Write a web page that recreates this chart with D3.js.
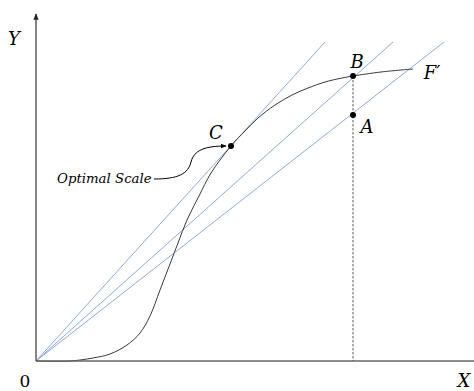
<!DOCTYPE html>
<html><head><meta charset="utf-8">
<script src="https://cdn.jsdelivr.net/npm/d3@7"></script>
<style>body{margin:0;background:#fff}svg{display:block}</style>
</head><body>
<script>
// Data (units: abstract X/Y, origin at 0)
const curveX = [0, 34, 57, 74, 91, 104, 114, 124, 134, 142, 151, 163, 175, 195, 209, 222, 239, 256, 272, 289, 306, 317, 345, 377];
const curveY = [0, 0, 3, 7, 16, 28, 45, 71, 97, 118, 141, 165, 188, 215, 230, 243, 256, 266, 273, 279, 283, 285, 289, 292];
const rayNames = ["ray1", "ray2", "ray3"];
const rayEndX = [289, 357, 408];
const rayEndY = [319, 319, 319];
const pointNames = ["C", "B", "A"];
const pointX = [195, 317, 317];
const pointY = [215, 285, 246];
const axisMaxX = 438, axisMaxY = 347;

const W = 474, H = 391;
const svg = d3.select("body").append("svg").attr("width", W).attr("height", H);
const x = d3.scaleLinear().domain([0, axisMaxX]).range([36, 474]);
const y = d3.scaleLinear().domain([0, axisMaxY]).range([361, 14]);

svg.append("defs").html(`
<marker id="ah" viewBox="0 0 10 10" refX="9" refY="5" markerWidth="6" markerHeight="6" orient="auto"><path d="M0,1L10,5L0,9z" fill="#000"/></marker>
<marker id="ay" viewBox="0 0 10 10" refX="9" refY="5" markerWidth="5" markerHeight="6" orient="auto"><path d="M0,1L10,5L0,9z" fill="#222"/></marker>`);

// rays
rayEndX.forEach((ex, i) => {
  svg.append("line").attr("x1", x(0)).attr("y1", y(0)).attr("x2", x(ex)).attr("y2", y(rayEndY[i]))
    .attr("stroke", "#8eaadb").attr("stroke-width", 1);
});

// dashed vertical from B
svg.append("line").attr("x1", x(pointX[1])).attr("y1", y(pointY[1])).attr("x2", x(pointX[1])).attr("y2", y(0))
  .attr("stroke", "#777").attr("stroke-width", 1.2).attr("stroke-dasharray", "2.5,1.5");

// curve
const pts = curveX.map((v, i) => [v, curveY[i]]);
svg.append("path").attr("d", d3.line().x(d => x(d[0])).y(d => y(d[1])).curve(d3.curveCatmullRom.alpha(0.5))(pts))
  .attr("fill", "none").attr("stroke", "#3a3a3a").attr("stroke-width", 1);

// axes
svg.append("line").attr("x1", x(0)).attr("y1", y(0)).attr("x2", x(axisMaxX)).attr("y2", y(0))
  .attr("stroke", "#666").attr("stroke-width", 1.5);
svg.append("line").attr("x1", x(0)).attr("y1", y(0)).attr("x2", x(0)).attr("y2", y(axisMaxY))
  .attr("stroke", "#444").attr("stroke-width", 1.3).attr("marker-end", "url(#ay)");

// points
pointX.forEach((px, i) => {
  svg.append("circle").attr("cx", x(px)).attr("cy", y(pointY[i])).attr("r", 3).attr("fill", "#000");
});

// labels
const font = "'DejaVu Serif', serif";
function lab(t, cx, cy, size, italic, anchor) {
  svg.append("text").attr("x", cx).attr("y", cy).text(t)
    .attr("font-family", font).attr("font-size", size)
    .attr("font-style", italic ? "italic" : "normal")
    .attr("text-anchor", anchor || "middle").attr("fill", "#000");
}
lab("Y", 14, 45, 18, true);
lab("0", 25, 387, 17, false);
lab("X", 464, 387, 18, true);
lab("B", 357, 68, 18, true);
lab("C", 216, 139, 18, true);
lab("A", 367, 133, 18, true);
lab("F\u2032", 432, 79, 18, true);
lab("Optimal Scale", 57, 183, 13.3, true, "start");

// arrow from label to C
svg.append("path").attr("d", `M154,179 C178,179 188,174 191,162 C194,150 205,146 ${x(pointX[0]) - 5},${y(pointY[0])}`)
  .attr("fill", "none").attr("stroke", "#000").attr("stroke-width", 1).attr("marker-end", "url(#ah)");
</script>
</body></html>
